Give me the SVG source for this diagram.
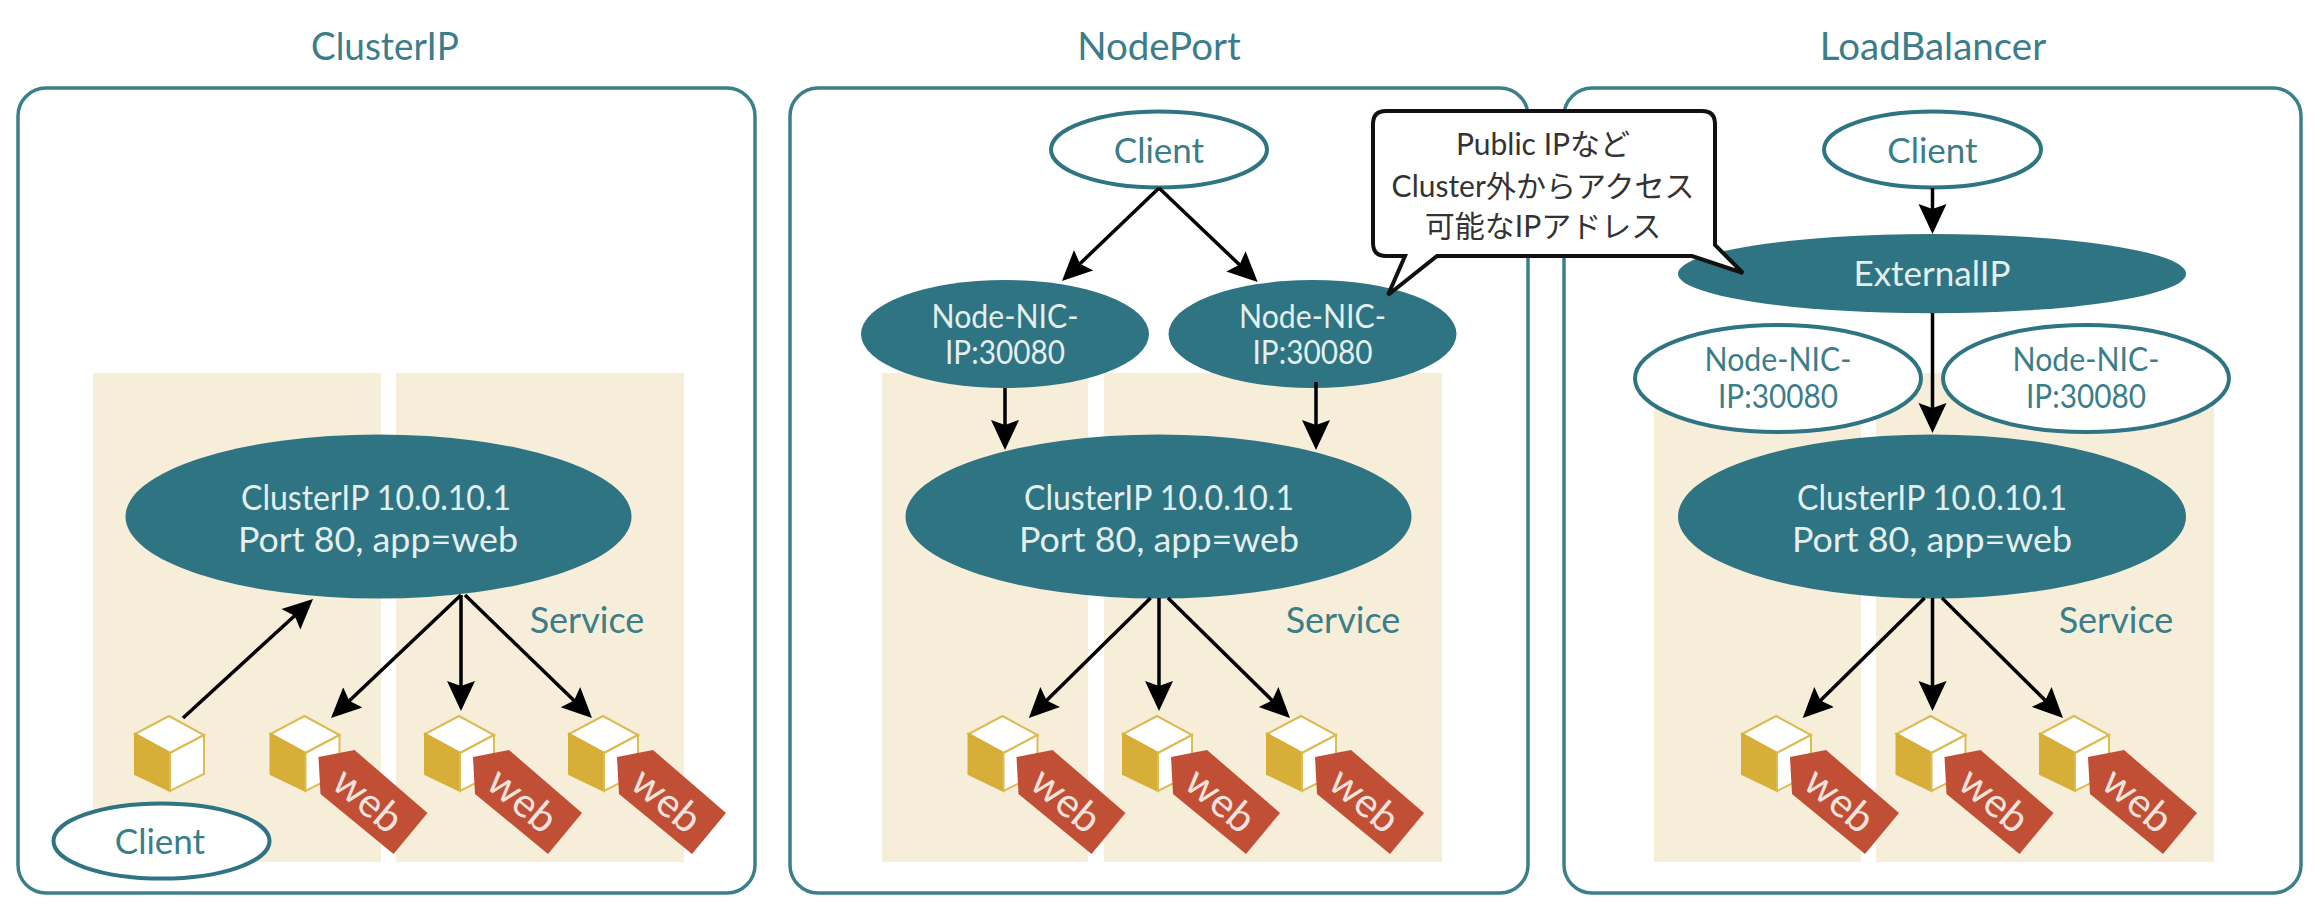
<svg xmlns="http://www.w3.org/2000/svg" width="2324" height="906" viewBox="0 0 2324 906">
<style>
text{font-family:"Lato","Noto Sans CJK JP",sans-serif;text-anchor:middle}
.panel{fill:#fff;stroke:#3c7f8a;stroke-width:3.5}
.bg{fill:#f6eed9}
.fill{fill:#2f7482}
.open{fill:#fff;stroke:#2f7482;stroke-width:4}
.title{font-size:38.5px;fill:#3b7d88}
.lt{font-size:35px;fill:#e3efee}
.nl{font-size:32px;fill:#e3efee}
.nd{font-size:32px;fill:#3b7d88}
.dk{font-size:35px;fill:#3b7d88}
.svc{font-size:36px;fill:#3b7d88}
.web{font-size:41px;fill:#f3e3dc}
.call{font-size:30px;fill:#333}
.conn line{stroke:#000;stroke-width:3.5;marker-end:url(#arr)}
</style>
<defs>
<marker id="arr" markerUnits="userSpaceOnUse" markerWidth="32" markerHeight="30" viewBox="0 0 32 30" refX="24" refY="15" orient="auto"><path d="M0,1 L30,15 L0,29 L5,15 Z" fill="#000"/></marker>
<g id="cube">
<path d="M0,0 L35,19 L1,37 L-34,18 Z" fill="#fff" stroke="#dcbb52" stroke-width="2"/>
<path d="M-34,18 L1,37 L1,75 L-34,58 Z" fill="#d6ae38" stroke="#d6ae38" stroke-width="2"/>
<path d="M1,37 L35,19 L35,58 L1,75 Z" fill="#fff" stroke="#dcbb52" stroke-width="2"/>
</g>
<path id="tag" d="M14,41 L50,34 L123,97 L89,138 L16,78 Z" fill="#c04f36"/>
</defs>

<g id="panels">
<rect class="panel" x="18" y="88" width="737" height="805" rx="28"/>
<rect class="panel" x="790" y="88" width="738" height="805" rx="28"/>
<rect class="panel" x="1564" y="88" width="737" height="805" rx="28"/>
<text class="title" x="385" y="60" textLength="148" lengthAdjust="spacingAndGlyphs">ClusterIP</text>
<text class="title" x="1159" y="60">NodePort</text>
<text class="title" x="1933" y="60">LoadBalancer</text>
</g>
<g id="backgrounds">
<rect class="bg" x="93" y="373" width="288" height="489"/><rect class="bg" x="396" y="373" width="288" height="489"/>
<rect class="bg" x="882" y="373" width="206" height="489"/><rect class="bg" x="1104" y="373" width="338" height="489"/>
<rect class="bg" x="1654" y="373" width="207" height="489"/><rect class="bg" x="1876" y="373" width="338" height="489"/>
</g>

<g id="clusterip-panel">
<g id="c-service"><ellipse class="fill" cx="378.500" cy="516.500" rx="253" ry="82"/><text class="lt" x="376" y="510" textLength="270" lengthAdjust="spacingAndGlyphs">ClusterIP 10.0.10.1</text><text class="lt" x="378" y="552" textLength="280" lengthAdjust="spacingAndGlyphs">Port 80, app=web</text></g>
<g id="c-service-label"><text class="svc" x="587" y="633">Service</text></g>
<g id="c-client"><ellipse class="open" cx="161.500" cy="841" rx="108" ry="37.500"/><text class="dk" x="160" y="854">Client</text></g>
<g id="c-clientpod"><use href="#cube" x="169" y="716"/></g>
<g id="c-pod1"><use href="#cube" x="304.500" y="716"/><use href="#tag" x="304.500" y="716"/><text class="web" transform="translate(367.500,801) rotate(40)" y="13">web</text></g>
<g id="c-pod2"><use href="#cube" x="459" y="716"/><use href="#tag" x="459" y="716"/><text class="web" transform="translate(522,801) rotate(40)" y="13">web</text></g>
<g id="c-pod3"><use href="#cube" x="603" y="716"/><use href="#tag" x="603" y="716"/><text class="web" transform="translate(666,801) rotate(40)" y="13">web</text></g>
</g>

<g id="nodeport-panel">
<g id="n-client"><ellipse class="open" cx="1159" cy="149.500" rx="108" ry="38"/><text class="dk" x="1159" y="163">Client</text></g>
<g id="n-nic1"><ellipse class="fill" cx="1005" cy="334" rx="144" ry="54"/><text class="nl" x="1005" y="328" textLength="147" lengthAdjust="spacingAndGlyphs">Node-NIC-</text><text class="nl" x="1005" y="364" textLength="120" lengthAdjust="spacingAndGlyphs">IP:30080</text></g>
<g id="n-nic2"><ellipse class="fill" cx="1312.500" cy="334" rx="144" ry="54"/><text class="nl" x="1312.500" y="328" textLength="147" lengthAdjust="spacingAndGlyphs">Node-NIC-</text><text class="nl" x="1312.500" y="364" textLength="120" lengthAdjust="spacingAndGlyphs">IP:30080</text></g>
<g id="n-service"><ellipse class="fill" cx="1158.500" cy="516.500" rx="253" ry="82"/><text class="lt" x="1159" y="510" textLength="270" lengthAdjust="spacingAndGlyphs">ClusterIP 10.0.10.1</text><text class="lt" x="1159" y="552" textLength="280" lengthAdjust="spacingAndGlyphs">Port 80, app=web</text></g>
<g id="n-service-label"><text class="svc" x="1343" y="633">Service</text></g>
<g id="n-pod1"><use href="#cube" x="1002.500" y="716"/><use href="#tag" x="1002.500" y="716"/><text class="web" transform="translate(1065.500,801) rotate(40)" y="13">web</text></g>
<g id="n-pod2"><use href="#cube" x="1157" y="716"/><use href="#tag" x="1157" y="716"/><text class="web" transform="translate(1220,801) rotate(40)" y="13">web</text></g>
<g id="n-pod3"><use href="#cube" x="1301" y="716"/><use href="#tag" x="1301" y="716"/><text class="web" transform="translate(1364,801) rotate(40)" y="13">web</text></g>
</g>

<g id="loadbalancer-panel">
<g id="l-client"><ellipse class="open" cx="1932.500" cy="149.500" rx="108.500" ry="38"/><text class="dk" x="1932.500" y="163">Client</text></g>
<g id="l-external"><ellipse class="fill" cx="1932" cy="273.700" rx="254" ry="39.600"/><text class="lt" x="1932" y="286">ExternalIP</text></g>
<g id="l-nic1"><ellipse class="open" cx="1778" cy="378.500" rx="143" ry="53.500"/><text class="nd" x="1778" y="371" textLength="147" lengthAdjust="spacingAndGlyphs">Node-NIC-</text><text class="nd" x="1778" y="408" textLength="120" lengthAdjust="spacingAndGlyphs">IP:30080</text></g>
<g id="l-nic2"><ellipse class="open" cx="2086" cy="378.500" rx="143" ry="53.500"/><text class="nd" x="2086" y="371" textLength="147" lengthAdjust="spacingAndGlyphs">Node-NIC-</text><text class="nd" x="2086" y="408" textLength="120" lengthAdjust="spacingAndGlyphs">IP:30080</text></g>
<g id="l-service"><ellipse class="fill" cx="1932" cy="516.500" rx="254" ry="82"/><text class="lt" x="1932" y="510" textLength="270" lengthAdjust="spacingAndGlyphs">ClusterIP 10.0.10.1</text><text class="lt" x="1932" y="552" textLength="280" lengthAdjust="spacingAndGlyphs">Port 80, app=web</text></g>
<g id="l-service-label"><text class="svc" x="2116" y="633">Service</text></g>
<g id="l-pod1"><use href="#cube" x="1776" y="716"/><use href="#tag" x="1776" y="716"/><text class="web" transform="translate(1839,801) rotate(40)" y="13">web</text></g>
<g id="l-pod2"><use href="#cube" x="1930.500" y="716"/><use href="#tag" x="1930.500" y="716"/><text class="web" transform="translate(1993.500,801) rotate(40)" y="13">web</text></g>
<g id="l-pod3"><use href="#cube" x="2074" y="716"/><use href="#tag" x="2074" y="716"/><text class="web" transform="translate(2137,801) rotate(40)" y="13">web</text></g>
</g>

<g id="connectors" class="conn">
<line x1="183" y1="718" x2="308.600" y2="603"/>
<line x1="461" y1="595" x2="335.400" y2="713.900"/>
<line x1="461" y1="595" x2="461" y2="705"/>
<line x1="465" y1="595" x2="587.700" y2="713.800"/>
<line x1="1159" y1="188" x2="1066.300" y2="276.800"/>
<line x1="1159" y1="188" x2="1253.300" y2="277.900"/>
<line x1="1005" y1="388" x2="1005" y2="444"/>
<line x1="1316" y1="382" x2="1316" y2="444"/>
<line x1="1150.600" y1="598" x2="1033.100" y2="713.800"/>
<line x1="1159" y1="598" x2="1159" y2="705"/>
<line x1="1168" y1="598" x2="1285.700" y2="713.800"/>
<line x1="1932.500" y1="188" x2="1932.500" y2="228"/>
<line x1="1932.500" y1="313" x2="1932.500" y2="427"/>
<line x1="1924.600" y1="598" x2="1807" y2="713.800"/>
<line x1="1932.500" y1="598" x2="1932.500" y2="705"/>
<line x1="1942" y1="598" x2="2058.700" y2="713.800"/>
</g>

<g id="callout">
<path d="M1386,111 H1702 Q1715,111 1715,124 V245 L1743,273 L1692,256 H1437 L1388,295 L1405,256 H1386 Q1373,256 1373,243 V124 Q1373,111 1386,111 Z" fill="#fff" stroke="#111" stroke-width="4" stroke-linejoin="miter"/>
<text class="call" x="1543" y="155">Public IPなど</text>
<text class="call" x="1543" y="197">Cluster外からアクセス</text>
<text class="call" x="1543" y="237">可能なIPアドレス</text>
</g>
</svg>
